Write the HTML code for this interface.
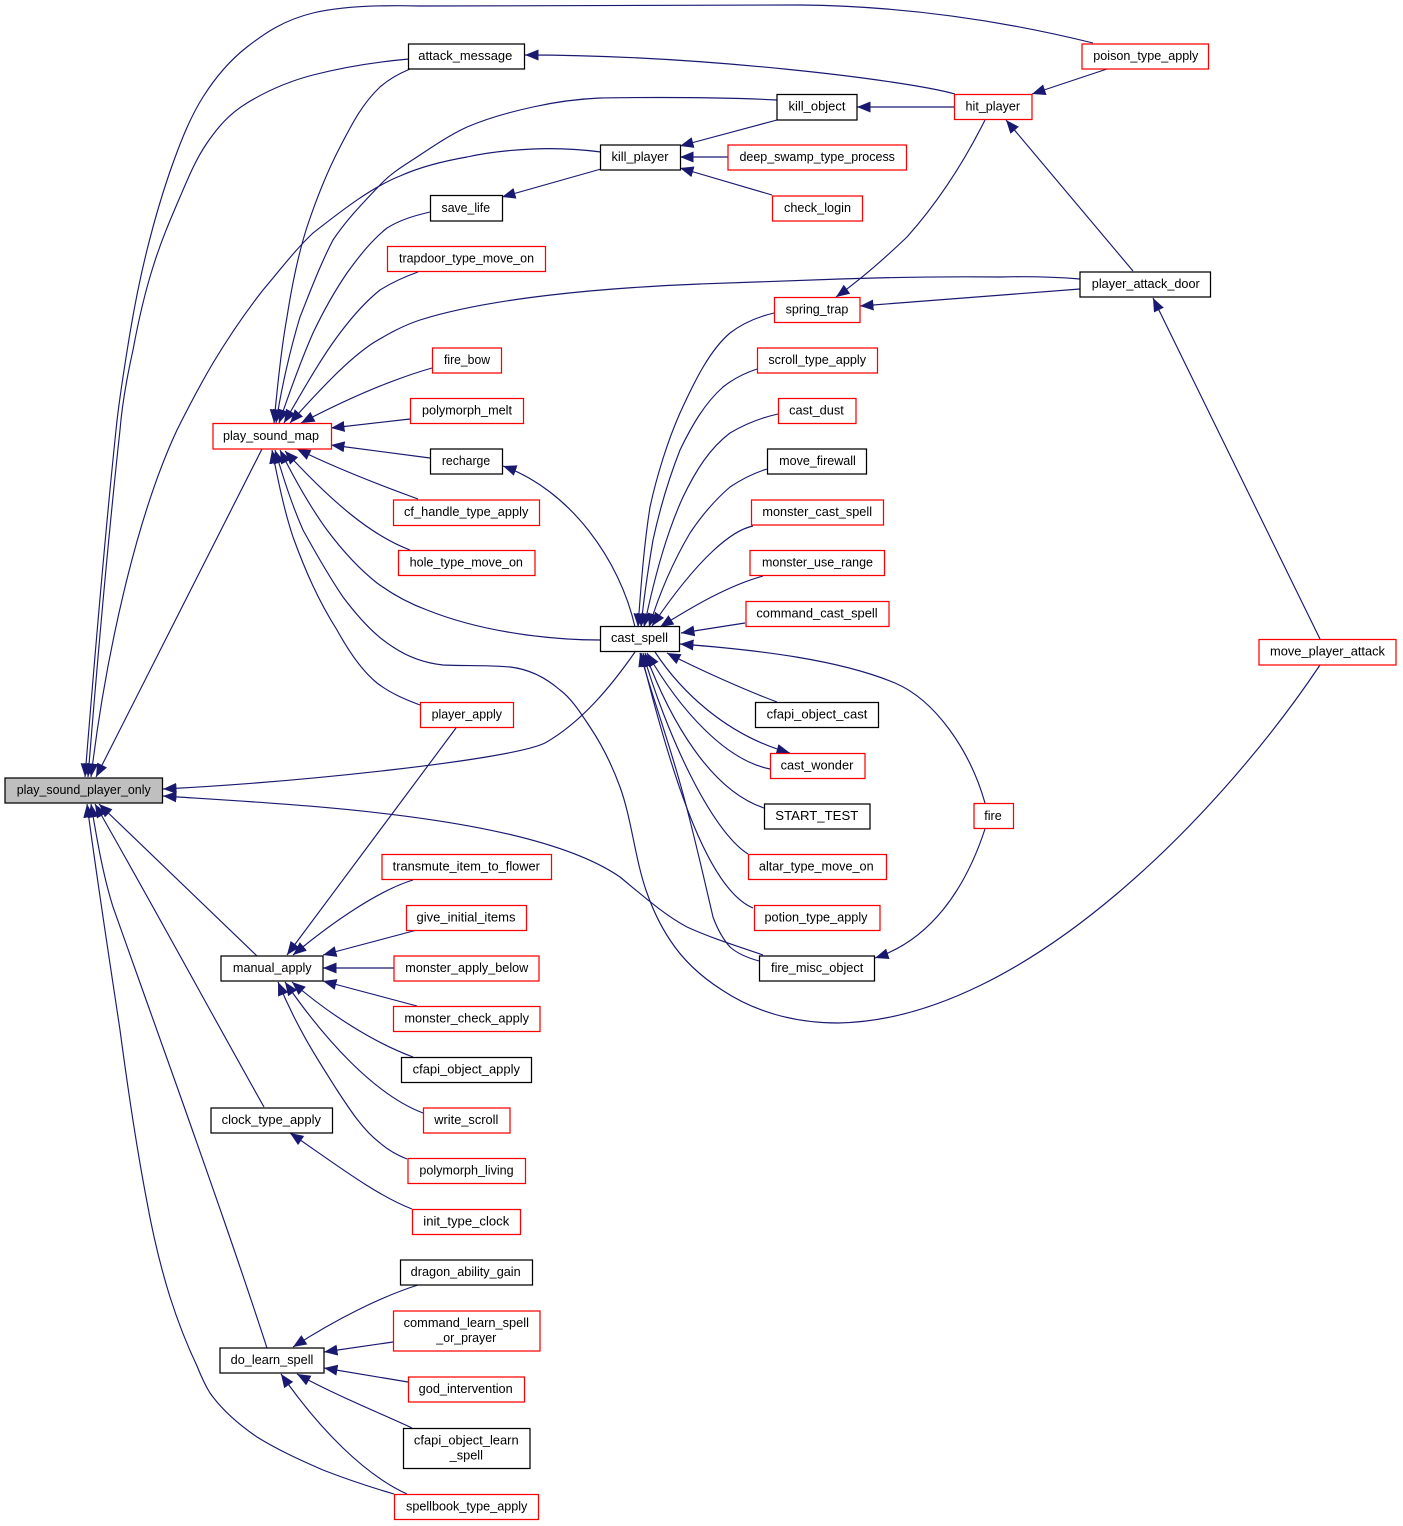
<!DOCTYPE html>
<html><head><meta charset="utf-8"><style>
html,body{margin:0;padding:0;background:#fff}
svg{display:block}
text{font-family:"Liberation Sans",sans-serif;font-size:12.6px;fill:#000;text-anchor:middle}
.b{fill:#fff;stroke:#000;stroke-width:1.25}
.r{fill:#fff;stroke:#f00;stroke-width:1.25}
.e path{fill:none;stroke:#191970;stroke-width:1.15;marker-end:url(#a)}
</style></head><body>
<svg width="1403" height="1526" viewBox="0 0 1403 1526" xmlns="http://www.w3.org/2000/svg">
<defs><marker id="a" markerUnits="userSpaceOnUse" markerWidth="15" markerHeight="12" refX="13.5" refY="5.5" orient="auto"><path d="M0,0 L13.5,5.5 L0,11 Z" fill="#191970"/></marker></defs>
<g class="e">
<path d="M1093,43 C1000,20 900,6 800,5 L420,6 C380,5 342,6 313,13 C284,20 265,33 247,47 C229,61 215,78 203,97 C191,116 182,138 173,163 C164,188 154,222 147,250 C140,278 135,303 130,333 C125,363 119,400 116,430 C104,545 94,665 85,777"/>
<path d="M409,59 C375,62 340,68 313,75 C286,82 265,92 247,103 C229,114 218,127 207,143 C196,159 189,176 180,197 C171,218 161,241 153,267 C145,292 138,323 133,350 C127,377 122,405 120,430 C108,540 97,665 88,777"/>
<path d="M601,152 C578,149 556,148 533,149 C511,150 489,152 467,157 C444,161 420,167 400,176 C370,188 340,212 313,233 C295,250 280,270 263,290 C245,313 228,338 213,363 C200,385 188,408 177,430 C135,520 105,660 91,777"/>
<path d="M262,449 L96,777"/>
<path d="M635,652 C612,685 582,722 545,743 C510,760 300,782 163,789"/>
<path d="M763,955 C737,946 711,938 687,927 C663,914 642,895 620,877 C530,815 300,805 163,796"/>
<path d="M257,956 L99,804"/>
<path d="M264,1107 C215,1020 150,900 95,804"/>
<path d="M267,1348 C240,1265 210,1180 180,1095 C158,1032 135,970 113,907 C103,875 97,840 91,804"/>
<path d="M394,1494 C370,1487 346,1479 323,1470 C300,1460 278,1450 257,1437 C238,1424 222,1410 210,1393 C205,1385 201,1376 197,1366 C187,1345 178,1322 170,1297 C160,1265 153,1235 147,1202 C137,1150 128,1090 120,1030 C108,950 97,880 87,804"/>
<path d="M955,94 C905,80 700,55 525,55"/>
<path d="M955,107 L857,107"/>
<path d="M1107,69 L1032,94"/>
<path d="M1133,271 L1006,120"/>
<path d="M985,120 C965,160 940,200 907,237 C885,258 860,280 836,297"/>
<path d="M777,120 L680,146"/>
<path d="M728,157 L680,157"/>
<path d="M772,195 L680,168"/>
<path d="M601,169 L502,197"/>
<path d="M410,69 C398,74 389,79 380,87 C362,104 352,124 340,147 C327,172 316,200 307,227 C298,255 292,285 287,317 C281,350 277,390 274,423"/>
<path d="M777,100 C740,98 700,97.5 660,97.5 C640,97.5 620,97.5 600,98 C577,99 555,102 533,107 C510,112 488,118 467,127 C450,135 435,145 420,155 C405,165 392,172 380,185 C358,208 345,222 333,240 C320,265 310,292 300,317 C290,350 281,390 276,423"/>
<path d="M430,212 C413,216 400,220 387,228 C372,240 360,255 347,273 C334,292 323,312 313,333 C302,358 292,385 279,423"/>
<path d="M418,272 C404,277 391,283 380,290 C365,302 352,317 340,333 C321,358 302,392 284,423"/>
<path d="M1080,279 C1050,276.5 1020,276.5 1000,277 C960,276.5 900,277 840,279 C790,281 745,282 700,284 C600,288 490,298 420,320 C402,326 388,334 373,343 C358,353 345,365 333,377 C318,392 305,406 290,423"/>
<path d="M432,368 C390,380 345,400 301,423"/>
<path d="M410,419 L331,428"/>
<path d="M430,458 L331,445"/>
<path d="M418,499 C385,487 340,470 297,449"/>
<path d="M410,550 C370,535 330,500 285,451"/>
<path d="M600,640 C575,640 550,638 527,635 C490,630 457,622 427,610 C408,603 392,594 377,583 C358,568 342,550 327,530 C311,508 295,480 280,450"/>
<path d="M1320,665 C1230,800 1030,1020 838,1023 C795,1023 755,1012 722,990 C700,976 683,960 670,940 C660,925 653,910 647,893 C635,860 632,820 620,787 C612,765 602,745 590,727 C580,712 571,698 560,690 C545,677 528,669 510,667 C488,665 465,666 443,665 C424,663 408,657 393,647 C375,636 358,617 343,597 C326,572 313,548 303,530 C292,505 284,480 275,450"/>
<path d="M420,705 C404,699 390,693 377,683 C361,670 348,650 337,630 C318,600 305,570 293,537 C284,510 278,480 272,450"/>
<path d="M774,313 C757,317 743,323 730,333 C710,350 695,380 680,413 C668,440 657,475 650,507 C644,545 641,585 638,627"/>
<path d="M757,369 C745,373 733,379 723,387 C705,403 692,425 680,450 C669,478 660,508 653,540 C648,570 644,595 641,627"/>
<path d="M778,414 C760,418 745,424 730,433 C710,448 696,470 683,497 C668,530 656,570 644,627"/>
<path d="M767,469 C754,473 742,479 730,487 C715,500 702,515 690,533 C677,555 662,585 649,627"/>
<path d="M753,526 C733,530 700,555 652,626"/>
<path d="M763,576 C730,585 695,605 660,627"/>
<path d="M745,623 L681,633"/>
<path d="M985,803 C970,750 935,700 895,683 C840,660 760,650 680,644"/>
<path d="M777,702 C745,690 700,670 667,653"/>
<path d="M770,769 C725,760 680,710 647,653"/>
<path d="M655,652 C680,690 725,735 790,753"/>
<path d="M764,808 C710,790 670,720 645,653"/>
<path d="M748,854 C710,830 665,730 643,653"/>
<path d="M753,908 C710,890 675,790 641,653"/>
<path d="M759,961 C748,958 738,954 730,947 C722,938 717,928 713,917 C702,870 692,825 680,783 C668,740 652,695 640,653"/>
<path d="M985,829 C965,890 930,940 875,958"/>
<path d="M635,627 C620,560 570,490 503,466"/>
<path d="M1080,289 L860,306"/>
<path d="M1320,639 L1153,298"/>
<path d="M456,728 L287,955"/>
<path d="M413,880 C380,890 335,920 293,955"/>
<path d="M417,930 L323,955"/>
<path d="M394,968 L323,968"/>
<path d="M417,1006 L323,981"/>
<path d="M413,1057 C375,1043 330,1015 292,982"/>
<path d="M423,1113 C375,1095 325,1040 285,982"/>
<path d="M407,1159 C397,1155 388,1150 380,1143 C363,1130 350,1110 337,1090 C318,1060 298,1030 278,982"/>
<path d="M412,1209 C375,1195 330,1160 290,1133"/>
<path d="M418,1285 C380,1297 335,1320 293,1347"/>
<path d="M393,1342 L324,1352"/>
<path d="M408,1382 L324,1368"/>
<path d="M412,1428 C380,1413 335,1395 297,1374"/>
<path d="M407,1494 C365,1475 320,1430 281,1374"/>
</g>
<rect x="5" y="778" width="157.5" height="25" fill="#bfbfbf" stroke="#000" stroke-width="1.25"/><text x="83.7" y="794" textLength="134" lengthAdjust="spacingAndGlyphs">play_sound_player_only</text>
<rect class="b" x="408.5" y="44" width="116" height="25"/><text x="465.3" y="60" textLength="94" lengthAdjust="spacingAndGlyphs">attack_message</text>
<rect class="r" x="1082" y="44" width="126.5" height="25"/><text x="1145.8" y="60" textLength="105" lengthAdjust="spacingAndGlyphs">poison_type_apply</text>
<rect class="b" x="777" y="94.5" width="80" height="25.5"/><text x="817" y="110.5" textLength="57" lengthAdjust="spacingAndGlyphs">kill_object</text>
<rect class="r" x="954.5" y="94.5" width="77.5" height="25"/><text x="992.8" y="110.5" textLength="54.5" lengthAdjust="spacingAndGlyphs">hit_player</text>
<rect class="b" x="600.5" y="145" width="80" height="25"/><text x="640" y="161" textLength="57" lengthAdjust="spacingAndGlyphs">kill_player</text>
<rect class="r" x="728" y="145" width="178.5" height="25"/><text x="817.2" y="161" textLength="155.5" lengthAdjust="spacingAndGlyphs">deep_swamp_type_process</text>
<rect class="b" x="430.5" y="195.5" width="72" height="25.5"/><text x="465.8" y="212" textLength="48.5" lengthAdjust="spacingAndGlyphs">save_life</text>
<rect class="r" x="772.5" y="196" width="90" height="25"/><text x="817.5" y="212" textLength="67" lengthAdjust="spacingAndGlyphs">check_login</text>
<rect class="r" x="387.5" y="246.5" width="158" height="25"/><text x="466.5" y="262.5" textLength="135" lengthAdjust="spacingAndGlyphs">trapdoor_type_move_on</text>
<rect class="b" x="1080" y="272" width="130.5" height="25"/><text x="1145.8" y="288" textLength="108" lengthAdjust="spacingAndGlyphs">player_attack_door</text>
<rect class="r" x="774.5" y="297.5" width="85.5" height="25"/><text x="817" y="313.5" textLength="62.7" lengthAdjust="spacingAndGlyphs">spring_trap</text>
<rect class="r" x="432.5" y="348" width="69" height="25"/><text x="467" y="364" textLength="46" lengthAdjust="spacingAndGlyphs">fire_bow</text>
<rect class="r" x="757.5" y="348" width="120" height="25"/><text x="817.2" y="364" textLength="97.7" lengthAdjust="spacingAndGlyphs">scroll_type_apply</text>
<rect class="r" x="410.5" y="398.5" width="113" height="25"/><text x="467" y="414.5" textLength="90" lengthAdjust="spacingAndGlyphs">polymorph_melt</text>
<rect class="r" x="778.5" y="398.5" width="77.5" height="25"/><text x="816.5" y="414.5" textLength="54.7" lengthAdjust="spacingAndGlyphs">cast_dust</text>
<rect class="r" x="213" y="423.5" width="118.5" height="25.5"/><text x="271" y="440" textLength="96" lengthAdjust="spacingAndGlyphs">play_sound_map</text>
<rect class="b" x="430.5" y="449" width="72" height="25"/><text x="466" y="465" textLength="48.3" lengthAdjust="spacingAndGlyphs">recharge</text>
<rect class="b" x="767.5" y="449" width="99" height="25"/><text x="817.5" y="465" textLength="76.7" lengthAdjust="spacingAndGlyphs">move_firewall</text>
<rect class="r" x="751.5" y="500" width="132" height="25"/><text x="817.2" y="516" textLength="109.7" lengthAdjust="spacingAndGlyphs">monster_cast_spell</text>
<rect class="r" x="393.5" y="500" width="146" height="25.5"/><text x="466.2" y="516" textLength="124.3" lengthAdjust="spacingAndGlyphs">cf_handle_type_apply</text>
<rect class="r" x="398.5" y="550.5" width="136.5" height="25"/><text x="466.3" y="566.5" textLength="113.3" lengthAdjust="spacingAndGlyphs">hole_type_move_on</text>
<rect class="r" x="750" y="550.5" width="134.5" height="25"/><text x="817.5" y="566.5" textLength="111" lengthAdjust="spacingAndGlyphs">monster_use_range</text>
<rect class="r" x="746" y="601.5" width="143" height="25"/><text x="817" y="617.5" textLength="121.3" lengthAdjust="spacingAndGlyphs">command_cast_spell</text>
<rect class="b" x="600.5" y="626.5" width="79" height="25"/><text x="639.5" y="642" textLength="57" lengthAdjust="spacingAndGlyphs">cast_spell</text>
<rect class="r" x="1259" y="639.5" width="137" height="25.5"/><text x="1327.5" y="655.5" textLength="115" lengthAdjust="spacingAndGlyphs">move_player_attack</text>
<rect class="b" x="755.5" y="702.5" width="123" height="25"/><text x="817" y="718.5" textLength="100.7" lengthAdjust="spacingAndGlyphs">cfapi_object_cast</text>
<rect class="r" x="420.5" y="702.5" width="93" height="25"/><text x="466.8" y="718.5" textLength="70.3" lengthAdjust="spacingAndGlyphs">player_apply</text>
<rect class="r" x="770.5" y="753.5" width="94.5" height="25"/><text x="817" y="769.5" textLength="72.7" lengthAdjust="spacingAndGlyphs">cast_wonder</text>
<rect class="b" x="764.5" y="804" width="105.5" height="25"/><text x="816.8" y="820" textLength="83" lengthAdjust="spacingAndGlyphs">START_TEST</text>
<rect class="r" x="974" y="803.5" width="39.5" height="25"/><text x="993" y="820">fire</text>
<rect class="r" x="748.5" y="854.5" width="138" height="25"/><text x="816.3" y="870.5" textLength="114.7" lengthAdjust="spacingAndGlyphs">altar_type_move_on</text>
<rect class="r" x="382" y="854.5" width="169.5" height="25"/><text x="466.3" y="870.5" textLength="147.3" lengthAdjust="spacingAndGlyphs">transmute_item_to_flower</text>
<rect class="r" x="406.5" y="905.5" width="120" height="25"/><text x="466" y="921.5" textLength="99" lengthAdjust="spacingAndGlyphs">give_initial_items</text>
<rect class="r" x="754.5" y="905.5" width="125.5" height="25"/><text x="816" y="921.5" textLength="103" lengthAdjust="spacingAndGlyphs">potion_type_apply</text>
<rect class="b" x="221" y="956" width="102" height="25"/><text x="272.3" y="972" textLength="78.7" lengthAdjust="spacingAndGlyphs">manual_apply</text>
<rect class="r" x="394" y="956" width="145" height="25"/><text x="466.8" y="972" textLength="123" lengthAdjust="spacingAndGlyphs">monster_apply_below</text>
<rect class="b" x="759.5" y="956" width="115" height="25"/><text x="817.2" y="972" textLength="92.3" lengthAdjust="spacingAndGlyphs">fire_misc_object</text>
<rect class="r" x="393.5" y="1006.5" width="146.5" height="25"/><text x="466.7" y="1022.5" textLength="124.7" lengthAdjust="spacingAndGlyphs">monster_check_apply</text>
<rect class="b" x="401.5" y="1057.5" width="130" height="25"/><text x="466.3" y="1073.5" textLength="107.3" lengthAdjust="spacingAndGlyphs">cfapi_object_apply</text>
<rect class="r" x="423.5" y="1108" width="86.5" height="25"/><text x="466.3" y="1124" textLength="64" lengthAdjust="spacingAndGlyphs">write_scroll</text>
<rect class="b" x="211" y="1108" width="121.5" height="25"/><text x="271.3" y="1124" textLength="99.3" lengthAdjust="spacingAndGlyphs">clock_type_apply</text>
<rect class="r" x="408" y="1158.5" width="117.5" height="25"/><text x="466.5" y="1174.5" textLength="94.3" lengthAdjust="spacingAndGlyphs">polymorph_living</text>
<rect class="r" x="412.5" y="1209.5" width="108" height="25"/><text x="466.3" y="1225.5" textLength="86" lengthAdjust="spacingAndGlyphs">init_type_clock</text>
<rect class="b" x="400.5" y="1260" width="132" height="25"/><text x="465.7" y="1276" textLength="110" lengthAdjust="spacingAndGlyphs">dragon_ability_gain</text>
<rect class="r" x="393.5" y="1311" width="146.5" height="40"/><text x="466.3" y="1327" textLength="125.3" lengthAdjust="spacingAndGlyphs">command_learn_spell</text><text x="466.3" y="1342" textLength="60" lengthAdjust="spacingAndGlyphs">_or_prayer</text>
<rect class="b" x="220" y="1348" width="104" height="25"/><text x="272" y="1364" textLength="82.7" lengthAdjust="spacingAndGlyphs">do_learn_spell</text>
<rect class="r" x="408.5" y="1377" width="116" height="25"/><text x="465.7" y="1393" textLength="94" lengthAdjust="spacingAndGlyphs">god_intervention</text>
<rect class="b" x="403.5" y="1428.5" width="126.5" height="40"/><text x="466.3" y="1444.5" textLength="104.7" lengthAdjust="spacingAndGlyphs">cfapi_object_learn</text><text x="466.3" y="1459.5" textLength="33.3" lengthAdjust="spacingAndGlyphs">_spell</text>
<rect class="r" x="394.5" y="1494.5" width="144" height="25"/><text x="466.7" y="1510.5" textLength="121.3" lengthAdjust="spacingAndGlyphs">spellbook_type_apply</text>
</svg>
</body></html>
